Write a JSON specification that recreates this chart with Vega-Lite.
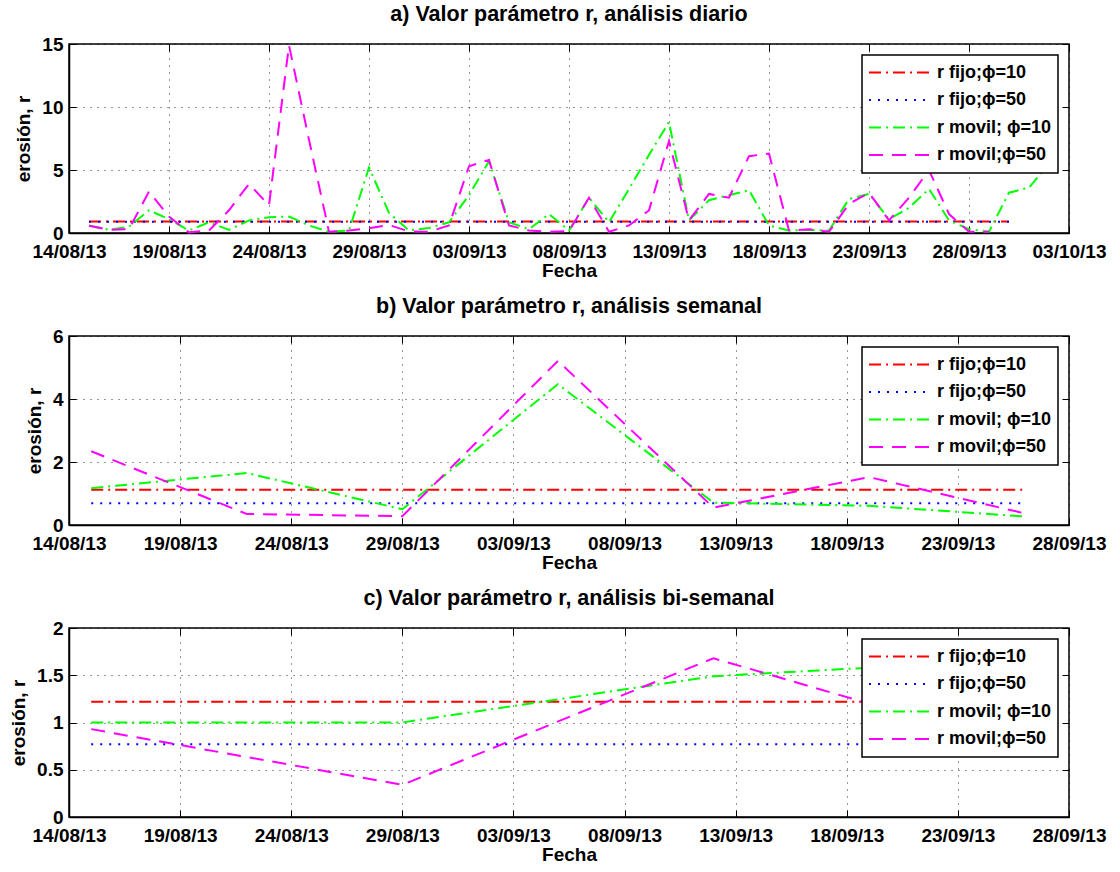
{
  "$schema": "https://vega.github.io/schema/vega-lite/v6.json",
  "background": "white",
  "padding": {"left": 8, "top": 2, "right": 12, "bottom": 4},
  "spacing": 13,
  "config": {
    "font": "Liberation Sans",
    "view": {"stroke": "black", "strokeWidth": 1.5},
    "axis": {
      "labelFont": "Liberation Sans", "labelFontSize": 19, "labelFontWeight": "bold", "labelColor": "black",
      "titleFont": "Liberation Sans", "titleFontSize": 19, "titleFontWeight": "bold", "titleColor": "black",
      "domainColor": "black", "domainWidth": 1.5, "tickColor": "black", "tickSize": -7,
      "gridColor": "black", "gridDash": [1, 6], "gridOpacity": 0.8, "gridWidth": 1,
      "labelFlush": false, "labelOverlap": false
    },
    "axisX": {"titlePadding": 0, "labelPadding": 16},
    "axisY": {"titlePadding": 8, "labelPadding": 13},
    "title": {"font": "Liberation Sans", "fontSize": 21.5, "fontWeight": "bold", "color": "black", "offset": 10},
    "legend": {
      "orient": "top-right", "offset": 11, "title": null,
      "fillColor": "white", "strokeColor": "black", "strokeWidth": 1.5, "padding": 6,
      "symbolType": "stroke", "symbolSize": 3600, "symbolStrokeWidth": 2,
      "labelFont": "Liberation Sans", "labelFontSize": 18, "labelFontWeight": "bold", "labelColor": "black",
      "labelOffset": 7, "rowPadding": 4.5, "clipHeight": 23
    }
  },
  "datasets": {
    "diario": [
      {"fecha": "2013-08-15", "fijo10": 0.92, "fijo50": 0.9, "movil10": 0.6, "movil50": 0.58},
      {"fecha": "2013-08-16", "fijo10": 0.92, "fijo50": 0.9, "movil10": 0.25, "movil50": 0.25},
      {"fecha": "2013-08-17", "fijo10": 0.92, "fijo50": 0.9, "movil10": 0.5, "movil50": 0.3},
      {"fecha": "2013-08-18", "fijo10": 0.92, "fijo50": 0.9, "movil10": 1.8, "movil50": 3.3},
      {"fecha": "2013-08-19", "fijo10": 0.92, "fijo50": 0.9, "movil10": 1.1, "movil50": 1.3},
      {"fecha": "2013-08-20", "fijo10": 0.92, "fijo50": 0.9, "movil10": 0.2, "movil50": 0.05},
      {"fecha": "2013-08-21", "fijo10": 0.92, "fijo50": 0.9, "movil10": 0.85, "movil50": 0.2},
      {"fecha": "2013-08-22", "fijo10": 0.92, "fijo50": 0.9, "movil10": 0.25, "movil50": 1.8},
      {"fecha": "2013-08-23", "fijo10": 0.92, "fijo50": 0.9, "movil10": 1.0, "movil50": 3.9},
      {"fecha": "2013-08-24", "fijo10": 0.92, "fijo50": 0.9, "movil10": 1.25, "movil50": 2.2},
      {"fecha": "2013-08-25", "fijo10": 0.92, "fijo50": 0.9, "movil10": 1.3, "movil50": 14.9},
      {"fecha": "2013-08-26", "fijo10": 0.92, "fijo50": 0.9, "movil10": 0.6, "movil50": 7.4},
      {"fecha": "2013-08-27", "fijo10": 0.92, "fijo50": 0.9, "movil10": 0.1, "movil50": 0.1},
      {"fecha": "2013-08-28", "fijo10": 0.92, "fijo50": 0.9, "movil10": 0.2, "movil50": 0.2},
      {"fecha": "2013-08-29", "fijo10": 0.92, "fijo50": 0.9, "movil10": 5.2, "movil50": 0.37},
      {"fecha": "2013-08-30", "fijo10": 0.92, "fijo50": 0.9, "movil10": 1.6, "movil50": 0.63},
      {"fecha": "2013-08-31", "fijo10": 0.92, "fijo50": 0.9, "movil10": 0.2, "movil50": 0.13},
      {"fecha": "2013-09-01", "fijo10": 0.92, "fijo50": 0.9, "movil10": 0.4, "movil50": 0.1},
      {"fecha": "2013-09-02", "fijo10": 0.92, "fijo50": 0.9, "movil10": 0.85, "movil50": 0.6},
      {"fecha": "2013-09-03", "fijo10": 0.92, "fijo50": 0.9, "movil10": 3.0, "movil50": 5.3},
      {"fecha": "2013-09-04", "fijo10": 0.92, "fijo50": 0.9, "movil10": 5.7, "movil50": 5.8},
      {"fecha": "2013-09-05", "fijo10": 0.92, "fijo50": 0.9, "movil10": 0.85, "movil50": 0.6},
      {"fecha": "2013-09-06", "fijo10": 0.92, "fijo50": 0.9, "movil10": 0.3, "movil50": 0.2},
      {"fecha": "2013-09-07", "fijo10": 0.92, "fijo50": 0.9, "movil10": 1.5, "movil50": 0.1},
      {"fecha": "2013-09-08", "fijo10": 0.92, "fijo50": 0.9, "movil10": 0.2, "movil50": 0.15},
      {"fecha": "2013-09-09", "fijo10": 0.92, "fijo50": 0.9, "movil10": 2.8, "movil50": 2.8},
      {"fecha": "2013-09-10", "fijo10": 0.92, "fijo50": 0.9, "movil10": 0.85, "movil50": 0.1},
      {"fecha": "2013-09-11", "fijo10": 0.92, "fijo50": 0.9, "movil10": 3.5, "movil50": 0.6},
      {"fecha": "2013-09-12", "fijo10": 0.92, "fijo50": 0.9, "movil10": 6.2, "movil50": 1.8},
      {"fecha": "2013-09-13", "fijo10": 0.92, "fijo50": 0.9, "movil10": 8.8, "movil50": 7.3},
      {"fecha": "2013-09-14", "fijo10": 0.92, "fijo50": 0.9, "movil10": 1.0, "movil50": 1.0},
      {"fecha": "2013-09-15", "fijo10": 0.92, "fijo50": 0.9, "movil10": 2.6, "movil50": 3.1},
      {"fecha": "2013-09-16", "fijo10": 0.92, "fijo50": 0.9, "movil10": 3.0, "movil50": 2.8},
      {"fecha": "2013-09-17", "fijo10": 0.92, "fijo50": 0.9, "movil10": 3.4, "movil50": 6.1},
      {"fecha": "2013-09-18", "fijo10": 0.92, "fijo50": 0.9, "movil10": 0.6, "movil50": 6.3},
      {"fecha": "2013-09-19", "fijo10": 0.92, "fijo50": 0.9, "movil10": 0.2, "movil50": 0.2},
      {"fecha": "2013-09-20", "fijo10": 0.92, "fijo50": 0.9, "movil10": 0.25, "movil50": 0.3},
      {"fecha": "2013-09-21", "fijo10": 0.92, "fijo50": 0.9, "movil10": 0.2, "movil50": 0.1},
      {"fecha": "2013-09-22", "fijo10": 0.92, "fijo50": 0.9, "movil10": 2.7, "movil50": 2.3},
      {"fecha": "2013-09-23", "fijo10": 0.92, "fijo50": 0.9, "movil10": 3.1, "movil50": 3.2},
      {"fecha": "2013-09-24", "fijo10": 0.92, "fijo50": 0.9, "movil10": 1.1, "movil50": 1.0},
      {"fecha": "2013-09-25", "fijo10": 0.92, "fijo50": 0.9, "movil10": 2.0, "movil50": 2.8},
      {"fecha": "2013-09-26", "fijo10": 0.92, "fijo50": 0.9, "movil10": 3.5, "movil50": 5.0},
      {"fecha": "2013-09-27", "fijo10": 0.92, "fijo50": 0.9, "movil10": 1.0, "movil50": 1.5},
      {"fecha": "2013-09-28", "fijo10": 0.92, "fijo50": 0.9, "movil10": 0.3, "movil50": 0.1},
      {"fecha": "2013-09-29", "fijo10": 0.92, "fijo50": 0.9, "movil10": 0.1, "movil50": 0.1},
      {"fecha": "2013-09-30", "fijo10": 0.92, "fijo50": 0.9, "movil10": 3.2, "movil50": null},
      {"fecha": "2013-10-01", "fijo10": null, "fijo50": null, "movil10": 3.6, "movil50": null},
      {"fecha": "2013-10-02", "fijo10": null, "fijo50": null, "movil10": 5.5, "movil50": null}
    ],
    "semanal": [
      {"fecha": "2013-08-15", "fijo10": 1.12, "fijo50": 0.69, "movil10": 1.17, "movil50": 2.34},
      {"fecha": "2013-08-22", "fijo10": 1.12, "fijo50": 0.69, "movil10": 1.65, "movil50": 0.35},
      {"fecha": "2013-08-29", "fijo10": 1.12, "fijo50": 0.69, "movil10": 0.5, "movil50": 0.28},
      {"fecha": "2013-09-05", "fijo10": 1.12, "fijo50": 0.69, "movil10": 4.47, "movil50": 5.21},
      {"fecha": "2013-09-12", "fijo10": 1.12, "fijo50": 0.69, "movil10": 0.71, "movil50": 0.55},
      {"fecha": "2013-09-19", "fijo10": 1.12, "fijo50": 0.69, "movil10": 0.61, "movil50": 1.52},
      {"fecha": "2013-09-26", "fijo10": 1.12, "fijo50": 0.69, "movil10": 0.27, "movil50": 0.37}
    ],
    "bisemanal": [
      {"fecha": "2013-08-15", "fijo10": 1.22, "fijo50": 0.77, "movil10": 1.0, "movil50": 0.93},
      {"fecha": "2013-08-29", "fijo10": 1.22, "fijo50": 0.77, "movil10": 1.0, "movil50": 0.34},
      {"fecha": "2013-09-12", "fijo10": 1.22, "fijo50": 0.77, "movil10": 1.49, "movil50": 1.68},
      {"fecha": "2013-09-26", "fijo10": 1.22, "fijo50": 0.77, "movil10": 1.67, "movil50": 0.72}
    ]
  },
  "vconcat": [
    {
      "title": "a) Valor parámetro r, análisis diario",
      "width": 1000, "height": 189,
      "data": {"name": "diario"},
      "transform": [{"fold": ["fijo10", "fijo50", "movil10", "movil50"], "as": ["serie", "r"]}],
      "layer": [
        {
          "mark": {"type": "line", "strokeWidth": 2},
          "encoding": {
            "x": {"field": "fecha", "type": "temporal", "title": "Fecha",
              "scale": {"type": "utc", "domain": [{"year": 2013, "month": 8, "date": 14, "utc": true}, {"year": 2013, "month": 10, "date": 3, "utc": true}]},
              "axis": {"labelExpr": "utcFormat(datum.value, '%d/%m/%y')", "values": [
                {"year": 2013, "month": 8, "date": 14, "utc": true}, {"year": 2013, "month": 8, "date": 19, "utc": true},
                {"year": 2013, "month": 8, "date": 24, "utc": true}, {"year": 2013, "month": 8, "date": 29, "utc": true},
                {"year": 2013, "month": 9, "date": 3, "utc": true}, {"year": 2013, "month": 9, "date": 8, "utc": true},
                {"year": 2013, "month": 9, "date": 13, "utc": true}, {"year": 2013, "month": 9, "date": 18, "utc": true},
                {"year": 2013, "month": 9, "date": 23, "utc": true}, {"year": 2013, "month": 9, "date": 28, "utc": true},
                {"year": 2013, "month": 10, "date": 3, "utc": true}]}},
            "y": {"field": "r", "type": "quantitative", "title": "erosión, r",
              "scale": {"domain": [0, 15], "nice": false}, "axis": {"values": [0, 5, 10, 15]}},
            "color": {"field": "serie", "type": "nominal",
              "scale": {"domain": ["fijo10", "fijo50", "movil10", "movil50"], "range": ["#ff0000", "#0000ff", "#00ff00", "#ff00ff"]},
              "legend": {"labelExpr": "{'fijo10': 'r fijo;ϕ=10', 'fijo50': 'r fijo;ϕ=50', 'movil10': 'r movil; ϕ=10', 'movil50': 'r movil;ϕ=50'}[datum.label]"}},
            "strokeDash": {"field": "serie", "type": "nominal",
              "scale": {"domain": ["fijo10", "fijo50", "movil10", "movil50"], "range": [[12, 5, 2, 5], [2, 7], [12, 5, 2, 5], [14, 9]]},
              "legend": {"labelExpr": "{'fijo10': 'r fijo;ϕ=10', 'fijo50': 'r fijo;ϕ=50', 'movil10': 'r movil; ϕ=10', 'movil50': 'r movil;ϕ=50'}[datum.label]"}}
          }
        },
        {
          "mark": {"type": "line", "strokeOpacity": 0},
          "encoding": {
            "x": {"field": "fecha", "type": "temporal",
              "scale": {"type": "utc", "domain": [{"year": 2013, "month": 8, "date": 14, "utc": true}, {"year": 2013, "month": 10, "date": 3, "utc": true}]},
              "axis": {"title": null, "labels": false, "grid": false, "domain": false, "values": [
                {"year": 2013, "month": 8, "date": 14, "utc": true}, {"year": 2013, "month": 8, "date": 19, "utc": true},
                {"year": 2013, "month": 8, "date": 24, "utc": true}, {"year": 2013, "month": 8, "date": 29, "utc": true},
                {"year": 2013, "month": 9, "date": 3, "utc": true}, {"year": 2013, "month": 9, "date": 8, "utc": true},
                {"year": 2013, "month": 9, "date": 13, "utc": true}, {"year": 2013, "month": 9, "date": 18, "utc": true},
                {"year": 2013, "month": 9, "date": 23, "utc": true}, {"year": 2013, "month": 9, "date": 28, "utc": true},
                {"year": 2013, "month": 10, "date": 3, "utc": true}]}},
            "y": {"field": "r", "type": "quantitative",
              "scale": {"domain": [0, 15], "nice": false},
              "axis": {"title": null, "labels": false, "grid": false, "domain": false, "values": [0, 5, 10, 15]}}
          }
        }
      ],
      "resolve": {"axis": {"x": "independent", "y": "independent"}}
    },
    {
      "title": "b) Valor parámetro r, análisis semanal",
      "width": 1000, "height": 189,
      "data": {"name": "semanal"},
      "transform": [{"fold": ["fijo10", "fijo50", "movil10", "movil50"], "as": ["serie", "r"]}],
      "layer": [
        {
          "mark": {"type": "line", "strokeWidth": 2},
          "encoding": {
            "x": {"field": "fecha", "type": "temporal", "title": "Fecha",
              "scale": {"type": "utc", "domain": [{"year": 2013, "month": 8, "date": 14, "utc": true}, {"year": 2013, "month": 9, "date": 28, "utc": true}]},
              "axis": {"labelExpr": "utcFormat(datum.value, '%d/%m/%y')", "values": [
                {"year": 2013, "month": 8, "date": 14, "utc": true}, {"year": 2013, "month": 8, "date": 19, "utc": true},
                {"year": 2013, "month": 8, "date": 24, "utc": true}, {"year": 2013, "month": 8, "date": 29, "utc": true},
                {"year": 2013, "month": 9, "date": 3, "utc": true}, {"year": 2013, "month": 9, "date": 8, "utc": true},
                {"year": 2013, "month": 9, "date": 13, "utc": true}, {"year": 2013, "month": 9, "date": 18, "utc": true},
                {"year": 2013, "month": 9, "date": 23, "utc": true}, {"year": 2013, "month": 9, "date": 28, "utc": true}]}},
            "y": {"field": "r", "type": "quantitative", "title": "erosión, r",
              "scale": {"domain": [0, 6], "nice": false}, "axis": {"values": [0, 2, 4, 6]}},
            "color": {"field": "serie", "type": "nominal",
              "scale": {"domain": ["fijo10", "fijo50", "movil10", "movil50"], "range": ["#ff0000", "#0000ff", "#00ff00", "#ff00ff"]},
              "legend": {"labelExpr": "{'fijo10': 'r fijo;ϕ=10', 'fijo50': 'r fijo;ϕ=50', 'movil10': 'r movil; ϕ=10', 'movil50': 'r movil;ϕ=50'}[datum.label]"}},
            "strokeDash": {"field": "serie", "type": "nominal",
              "scale": {"domain": ["fijo10", "fijo50", "movil10", "movil50"], "range": [[12, 5, 2, 5], [2, 7], [12, 5, 2, 5], [14, 9]]},
              "legend": {"labelExpr": "{'fijo10': 'r fijo;ϕ=10', 'fijo50': 'r fijo;ϕ=50', 'movil10': 'r movil; ϕ=10', 'movil50': 'r movil;ϕ=50'}[datum.label]"}}
          }
        },
        {
          "mark": {"type": "line", "strokeOpacity": 0},
          "encoding": {
            "x": {"field": "fecha", "type": "temporal",
              "scale": {"type": "utc", "domain": [{"year": 2013, "month": 8, "date": 14, "utc": true}, {"year": 2013, "month": 9, "date": 28, "utc": true}]},
              "axis": {"title": null, "labels": false, "grid": false, "domain": false, "values": [
                {"year": 2013, "month": 8, "date": 14, "utc": true}, {"year": 2013, "month": 8, "date": 19, "utc": true},
                {"year": 2013, "month": 8, "date": 24, "utc": true}, {"year": 2013, "month": 8, "date": 29, "utc": true},
                {"year": 2013, "month": 9, "date": 3, "utc": true}, {"year": 2013, "month": 9, "date": 8, "utc": true},
                {"year": 2013, "month": 9, "date": 13, "utc": true}, {"year": 2013, "month": 9, "date": 18, "utc": true},
                {"year": 2013, "month": 9, "date": 23, "utc": true}, {"year": 2013, "month": 9, "date": 28, "utc": true}]}},
            "y": {"field": "r", "type": "quantitative",
              "scale": {"domain": [0, 6], "nice": false},
              "axis": {"title": null, "labels": false, "grid": false, "domain": false, "values": [0, 2, 4, 6]}}
          }
        }
      ],
      "resolve": {"axis": {"x": "independent", "y": "independent"}}
    },
    {
      "title": "c) Valor parámetro r, análisis bi-semanal",
      "width": 1000, "height": 189,
      "data": {"name": "bisemanal"},
      "transform": [{"fold": ["fijo10", "fijo50", "movil10", "movil50"], "as": ["serie", "r"]}],
      "layer": [
        {
          "mark": {"type": "line", "strokeWidth": 2},
          "encoding": {
            "x": {"field": "fecha", "type": "temporal", "title": "Fecha",
              "scale": {"type": "utc", "domain": [{"year": 2013, "month": 8, "date": 14, "utc": true}, {"year": 2013, "month": 9, "date": 28, "utc": true}]},
              "axis": {"labelExpr": "utcFormat(datum.value, '%d/%m/%y')", "values": [
                {"year": 2013, "month": 8, "date": 14, "utc": true}, {"year": 2013, "month": 8, "date": 19, "utc": true},
                {"year": 2013, "month": 8, "date": 24, "utc": true}, {"year": 2013, "month": 8, "date": 29, "utc": true},
                {"year": 2013, "month": 9, "date": 3, "utc": true}, {"year": 2013, "month": 9, "date": 8, "utc": true},
                {"year": 2013, "month": 9, "date": 13, "utc": true}, {"year": 2013, "month": 9, "date": 18, "utc": true},
                {"year": 2013, "month": 9, "date": 23, "utc": true}, {"year": 2013, "month": 9, "date": 28, "utc": true}]}},
            "y": {"field": "r", "type": "quantitative", "title": "erosión, r",
              "scale": {"domain": [0, 2], "nice": false}, "axis": {"values": [0, 0.5, 1, 1.5, 2], "format": "~g"}},
            "color": {"field": "serie", "type": "nominal",
              "scale": {"domain": ["fijo10", "fijo50", "movil10", "movil50"], "range": ["#ff0000", "#0000ff", "#00ff00", "#ff00ff"]},
              "legend": {"labelExpr": "{'fijo10': 'r fijo;ϕ=10', 'fijo50': 'r fijo;ϕ=50', 'movil10': 'r movil; ϕ=10', 'movil50': 'r movil;ϕ=50'}[datum.label]"}},
            "strokeDash": {"field": "serie", "type": "nominal",
              "scale": {"domain": ["fijo10", "fijo50", "movil10", "movil50"], "range": [[12, 5, 2, 5], [2, 7], [12, 5, 2, 5], [14, 9]]},
              "legend": {"labelExpr": "{'fijo10': 'r fijo;ϕ=10', 'fijo50': 'r fijo;ϕ=50', 'movil10': 'r movil; ϕ=10', 'movil50': 'r movil;ϕ=50'}[datum.label]"}}
          }
        },
        {
          "mark": {"type": "line", "strokeOpacity": 0},
          "encoding": {
            "x": {"field": "fecha", "type": "temporal",
              "scale": {"type": "utc", "domain": [{"year": 2013, "month": 8, "date": 14, "utc": true}, {"year": 2013, "month": 9, "date": 28, "utc": true}]},
              "axis": {"title": null, "labels": false, "grid": false, "domain": false, "values": [
                {"year": 2013, "month": 8, "date": 14, "utc": true}, {"year": 2013, "month": 8, "date": 19, "utc": true},
                {"year": 2013, "month": 8, "date": 24, "utc": true}, {"year": 2013, "month": 8, "date": 29, "utc": true},
                {"year": 2013, "month": 9, "date": 3, "utc": true}, {"year": 2013, "month": 9, "date": 8, "utc": true},
                {"year": 2013, "month": 9, "date": 13, "utc": true}, {"year": 2013, "month": 9, "date": 18, "utc": true},
                {"year": 2013, "month": 9, "date": 23, "utc": true}, {"year": 2013, "month": 9, "date": 28, "utc": true}]}},
            "y": {"field": "r", "type": "quantitative",
              "scale": {"domain": [0, 2], "nice": false},
              "axis": {"title": null, "labels": false, "grid": false, "domain": false, "values": [0, 0.5, 1, 1.5, 2]}}
          }
        }
      ],
      "resolve": {"axis": {"x": "independent", "y": "independent"}}
    }
  ],
  "resolve": {"scale": {"color": "independent", "strokeDash": "independent"}, "legend": {"color": "independent", "strokeDash": "independent"}}
}
